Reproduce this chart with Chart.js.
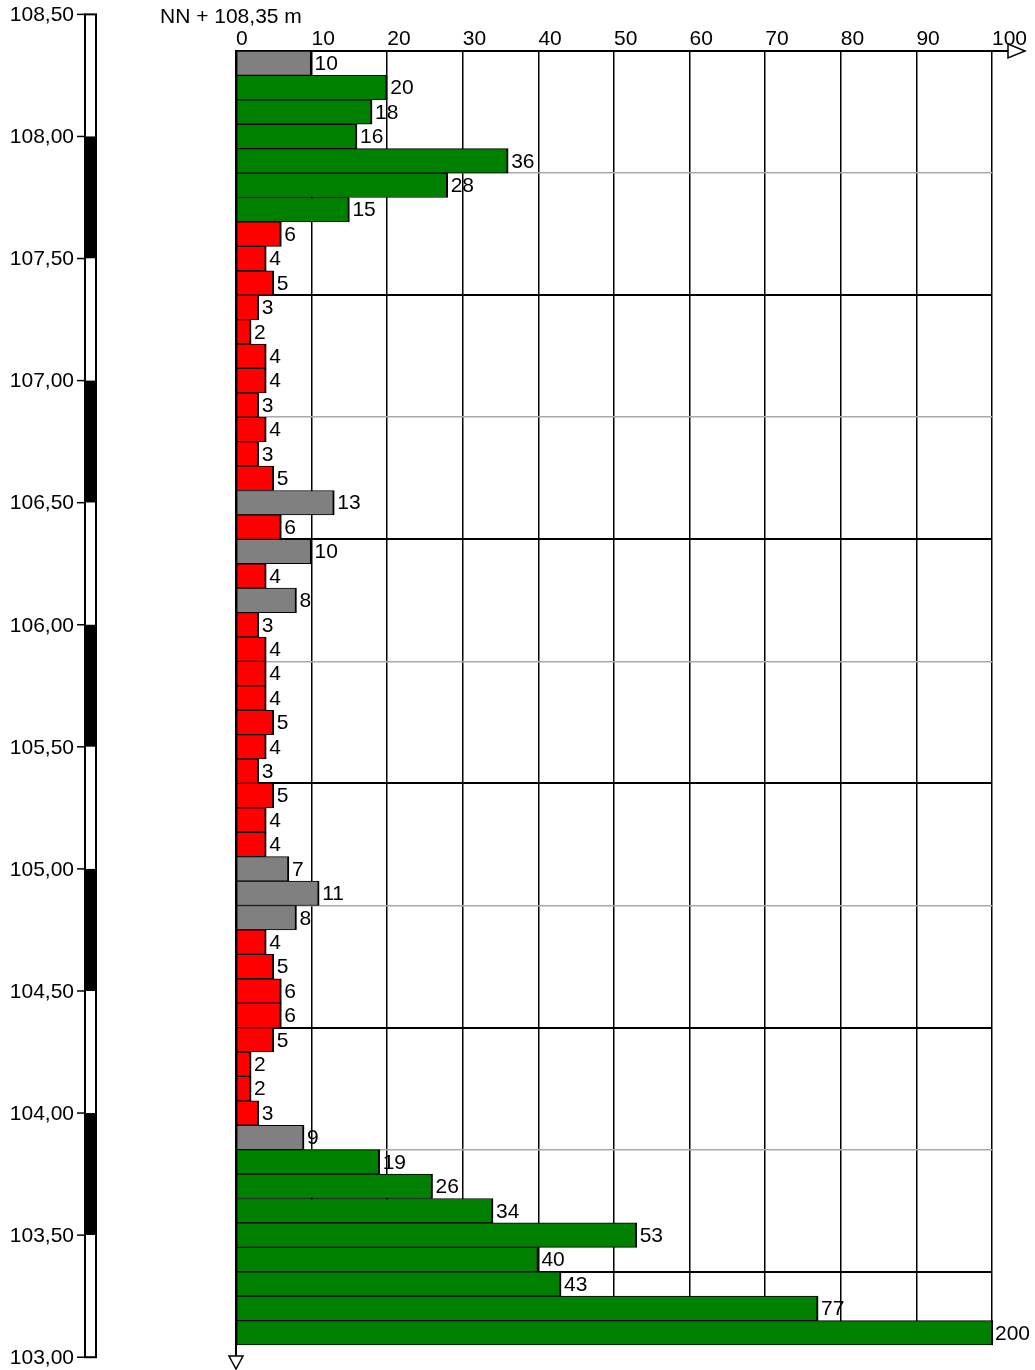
<!DOCTYPE html>
<html>
<head>
<meta charset="utf-8">
<script src="https://cdn.jsdelivr.net/npm/chart.js@4.4.0/dist/chart.umd.min.js"></script>
<style>
html, body { margin: 0; padding: 0; background: #fff; }
#wrap { position: relative; width: 1035px; height: 1370px; }
</style>
</head>
<body>
<div id="wrap"><canvas id="graphCanvasSonde"></canvas></div>
<script>
// Schlagzahlen je 10 cm, von oben (NN + 108,35 m) nach unten
var ansatzHoehe = 108.35;
var schrittweite = 0.1;
var schlaege = [10, 20, 18, 16, 36, 28, 15, 6, 4, 5,
                3, 2, 4, 4, 3, 4, 3, 5, 13, 6,
                10, 4, 8, 3, 4, 4, 4, 5, 4, 3,
                5, 4, 4, 7, 11, 8, 4, 5, 6, 6,
                5, 2, 2, 3, 9, 19, 26, 34, 53, 40,
                43, 77, 200];
var klasse = ['grau', 'gruen', 'gruen', 'gruen', 'gruen', 'gruen', 'gruen', 'rot', 'rot', 'rot',
              'rot', 'rot', 'rot', 'rot', 'rot', 'rot', 'rot', 'rot', 'grau', 'rot',
              'grau', 'rot', 'grau', 'rot', 'rot', 'rot', 'rot', 'rot', 'rot', 'rot',
              'rot', 'rot', 'rot', 'grau', 'grau', 'grau', 'rot', 'rot', 'rot', 'rot',
              'rot', 'rot', 'rot', 'rot', 'grau', 'gruen', 'gruen', 'gruen', 'gruen', 'gruen',
              'gruen', 'gruen', 'gruen'];
var farben = { grau: '#808080', gruen: '#008000', rot: '#ff0000' };

// Hoehenskala links
var hoehenWerte = [108.5, 108.0, 107.5, 107.0, 106.5, 106.0, 105.5, 105.0, 104.5, 104.0, 103.5, 103.0];
var hoehenLabels = ['108,50', '108,00', '107,50', '107,00', '106,50', '106,00', '105,50', '105,00', '104,50', '104,00', '103,50', '103,00'];
var titelText = 'NN + 108,35 m';

var schrift = '21px "Liberation Sans", Arial, sans-serif';

var tiefen = [];
for (var i = 0; i < schlaege.length; i++) {
    tiefen.push((ansatzHoehe - i * schrittweite).toFixed(2).replace('.', ','));
}

// hoehe (m) -> pixel ueber die Kategorie-Skala
function hoeheZuPixel(yScale, h) {
    return yScale.getPixelForValue((ansatzHoehe - h) / schrittweite - 0.5);
}

var sondenPlugin = {
    id: 'sonde',
    beforeDraw: function (chart) {
        // Zahlen neben den Balken (unter dem Gitter, wie im Original)
        var ctx = chart.ctx;
        var xScale = chart.scales.x;
        var meta = chart.getDatasetMeta(0);
        ctx.save();
        ctx.font = schrift;
        ctx.fillStyle = '#000';
        ctx.textAlign = 'left';
        ctx.textBaseline = 'middle';
        meta.data.forEach(function (bar, i) {
            var xEnd = Math.min(bar.x, xScale.right);
            ctx.fillText(String(schlaege[i]), xEnd + 3, bar.y + 1);
        });
        ctx.restore();
    },
    afterDatasetsDraw: function (chart) {
        // abgeschnittene Balken rechts schliessen
        var ctx = chart.ctx;
        var xScale = chart.scales.x;
        var meta = chart.getDatasetMeta(0);
        ctx.save();
        ctx.strokeStyle = '#000';
        ctx.lineWidth = 2;
        meta.data.forEach(function (bar, i) {
            if (schlaege[i] > xScale.max) {
                ctx.beginPath();
                ctx.moveTo(xScale.right, bar.y - bar.height / 2);
                ctx.lineTo(xScale.right, bar.y + bar.height / 2);
                ctx.stroke();
            }
        });
        ctx.restore();
    },
    afterDraw: function (chart) {
        var ctx = chart.ctx;
        var yScale = chart.scales.y;
        var area = chart.chartArea;
        ctx.save();
        ctx.strokeStyle = '#000';
        ctx.fillStyle = '#000';

        // Pfeil x-Achse
        var x0 = area.right, yT = area.top;
        ctx.lineWidth = 2;
        ctx.beginPath();
        ctx.moveTo(x0, yT);
        ctx.lineTo(x0 + 32, yT);
        ctx.stroke();
        ctx.lineWidth = 1.5;
        ctx.beginPath();
        ctx.moveTo(x0 + 16, yT - 7);
        ctx.lineTo(x0 + 33, yT);
        ctx.lineTo(x0 + 16, yT + 7);
        ctx.closePath();
        ctx.fillStyle = '#fff';
        ctx.fill();
        ctx.stroke();

        // Pfeil y-Achse
        var xL = area.left, yB = area.bottom;
        ctx.lineWidth = 2;
        ctx.beginPath();
        ctx.moveTo(xL, yB);
        ctx.lineTo(xL, yB + 11);
        ctx.stroke();
        ctx.lineWidth = 1.5;
        ctx.beginPath();
        ctx.moveTo(xL - 7, yB + 11);
        ctx.lineTo(xL + 7, yB + 11);
        ctx.lineTo(xL, yB + 24);
        ctx.closePath();
        ctx.fill();
        ctx.stroke();

        // Titel
        ctx.fillStyle = '#000';
        ctx.font = schrift;
        ctx.textAlign = 'left';
        ctx.textBaseline = 'middle';
        ctx.fillText(titelText, 160, 17);

        // Hoehenleiste
        var sx = 85, sw = 11;
        for (var k = 0; k < hoehenWerte.length - 1; k++) {
            var y1 = hoeheZuPixel(yScale, hoehenWerte[k]);
            var y2 = hoeheZuPixel(yScale, hoehenWerte[k + 1]);
            ctx.fillStyle = (k % 2 === 0) ? '#fff' : '#000';
            ctx.fillRect(sx, y1, sw, y2 - y1);
        }
        var yTop = hoeheZuPixel(yScale, hoehenWerte[0]);
        var yBot = hoeheZuPixel(yScale, hoehenWerte[hoehenWerte.length - 1]);
        ctx.lineWidth = 2;
        ctx.strokeRect(sx, yTop, sw, yBot - yTop);

        ctx.fillStyle = '#000';
        ctx.textAlign = 'right';
        ctx.lineWidth = 1.5;
        hoehenWerte.forEach(function (h, k) {
            var y = hoeheZuPixel(yScale, h);
            ctx.beginPath();
            ctx.moveTo(77, y);
            ctx.lineTo(sx, y);
            ctx.stroke();
            ctx.fillText(hoehenLabels[k], 74, y + 1);
        });
        ctx.restore();
    }
};

var chartdata = {
    labels: tiefen,
    datasets: [{
        label: 'Schlagzahl N10',
        data: schlaege,
        backgroundColor: klasse.map(function (k) { return farben[k]; }),
        borderColor: '#000',
        borderWidth: { top: 1, bottom: 1, left: 1, right: 2 },
        borderSkipped: false,
        barPercentage: 1,
        categoryPercentage: 1,
        clip: { left: false, top: false, bottom: false, right: 1 }
    }]
};

var graphTarget = document.getElementById('graphCanvasSonde');

var barGraph = new Chart(graphTarget, {
    type: 'bar',
    data: chartdata,
    plugins: [sondenPlugin],
    options: {
        indexAxis: 'y',
        responsive: true,
        maintainAspectRatio: false,
        animation: false,
        layout: { padding: { left: 0, top: 0, right: 43, bottom: 25 } },
        plugins: {
            legend: { display: false },
            tooltip: { enabled: false }
        },
        scales: {
            x: {
                type: 'linear',
                position: 'top',
                min: 0,
                max: 100,
                ticks: {
                    stepSize: 10,
                    align: 'start',
                    padding: 1,
                    maxRotation: 0,
                    minRotation: 0,
                    color: '#000',
                    font: { family: '"Liberation Sans", Arial, sans-serif', size: 21, lineHeight: 1 }
                },
                grid: { color: '#000', lineWidth: 1.5, drawTicks: false },
                border: { color: '#000', width: 2 },
                afterFit: function (s) { s.height = 51; }
            },
            y: {
                type: 'category',
                offset: true,
                ticks: { display: false, autoSkip: false },
                grid: {
                    offset: true,
                    drawTicks: false,
                    color: function (c) {
                        var i = c.index;
                        if (i === undefined || i === 0) return 'rgba(0,0,0,0)';
                        if (i % 10 === 0) return '#000';
                        if (i % 5 === 0) return '#aaaaaa';
                        return 'rgba(0,0,0,0)';
                    },
                    lineWidth: function (c) {
                        return (c.index % 10 === 0) ? 2 : 1.5;
                    }
                },
                border: { color: '#000', width: 2 },
                afterFit: function (s) { s.width = 236; }
            }
        }
    }
});
</script>
</body>
</html>
